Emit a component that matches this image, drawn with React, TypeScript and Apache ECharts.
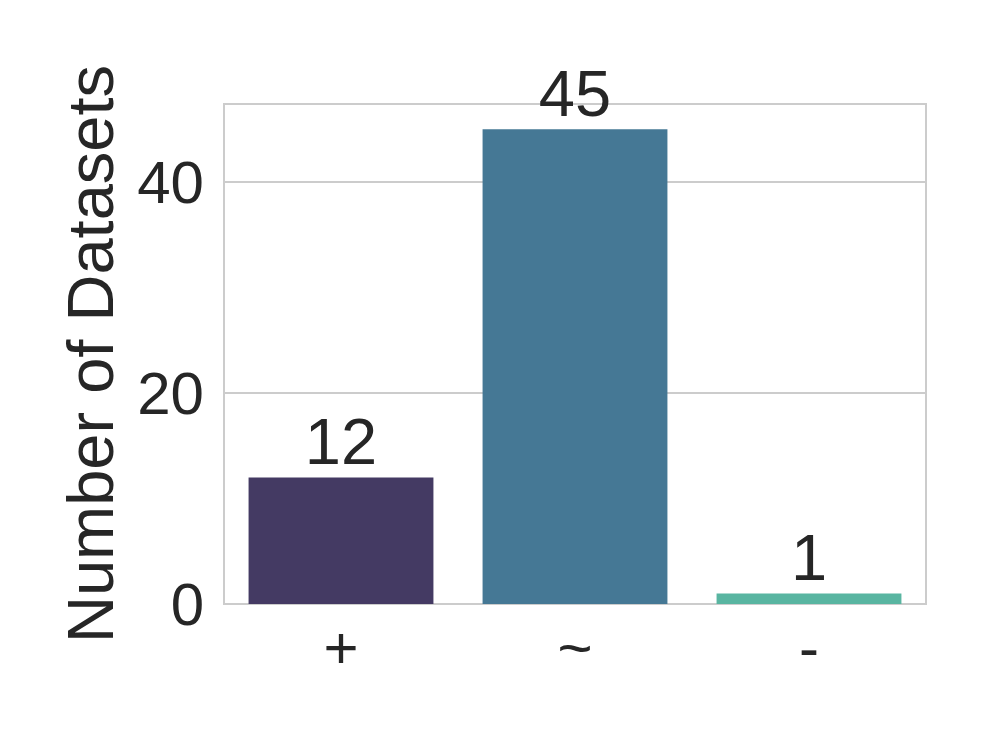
import React, { useEffect, useRef } from "react";
import * as echarts from "echarts";

const categories = ["+", "~", "-"];
const counts = [12, 45, 1];
const barColors = ["#443A63", "#457895", "#59B5A1"];
const yTicks = [0, 20, 40];
const yLabel = "Number of Datasets";

export default function App() {
  const ref = useRef<HTMLDivElement>(null);
  useEffect(() => {
    if (!ref.current) return;
    const chart = echarts.init(ref.current, undefined, { renderer: "svg" });
    const font = "'Liberation Sans', Arial, sans-serif";
    const textColor = "#262626";
    chart.setOption({
      animation: false,
      backgroundColor: "#ffffff",
      textStyle: { fontFamily: font },
      grid: {
        left: 224,
        right: 70,
        top: 104,
        bottom: 144,
        show: true,
        borderColor: "#cccccc",
        borderWidth: 2,
        backgroundColor: "transparent",
      },
      xAxis: {
        type: "category",
        data: categories,
        boundaryGap: true,
        axisLine: { show: false },
        axisTick: { show: false },
        axisLabel: { color: textColor, fontSize: 60, fontFamily: font, margin: 13 },
        splitLine: { show: false },
      },
      yAxis: {
        type: "value",
        min: 0,
        max: 47.4,
        interval: 20,
        name: yLabel,
        nameLocation: "middle",
        nameGap: 101,
        nameTextStyle: { color: textColor, fontSize: 65, fontFamily: font },
        axisLine: { show: false },
        axisTick: { show: false },
        axisLabel: {
          color: textColor,
          fontSize: 60,
          fontFamily: font,
          margin: 20,
          showMaxLabel: false,
          formatter: (v: number) => (yTicks.includes(v) ? String(v) : ""),
        },
        splitLine: { show: true, lineStyle: { color: "#cccccc", width: 2 } },
      },
      series: [
        {
          type: "bar",
          barWidth: "79%",
          data: counts.map((v, i) => ({ value: v, itemStyle: { color: barColors[i] } })),
          label: {
            show: true,
            position: "top",
            distance: 3,
            color: textColor,
            fontSize: 65,
            fontFamily: font,
          },
        },
      ],
    });
    return () => chart.dispose();
  }, []);
  return (
    <div
      ref={ref}
      style={{ position: "fixed", left: 0, top: 0, width: 996, height: 748, background: "#fff" }}
    />
  );
}
